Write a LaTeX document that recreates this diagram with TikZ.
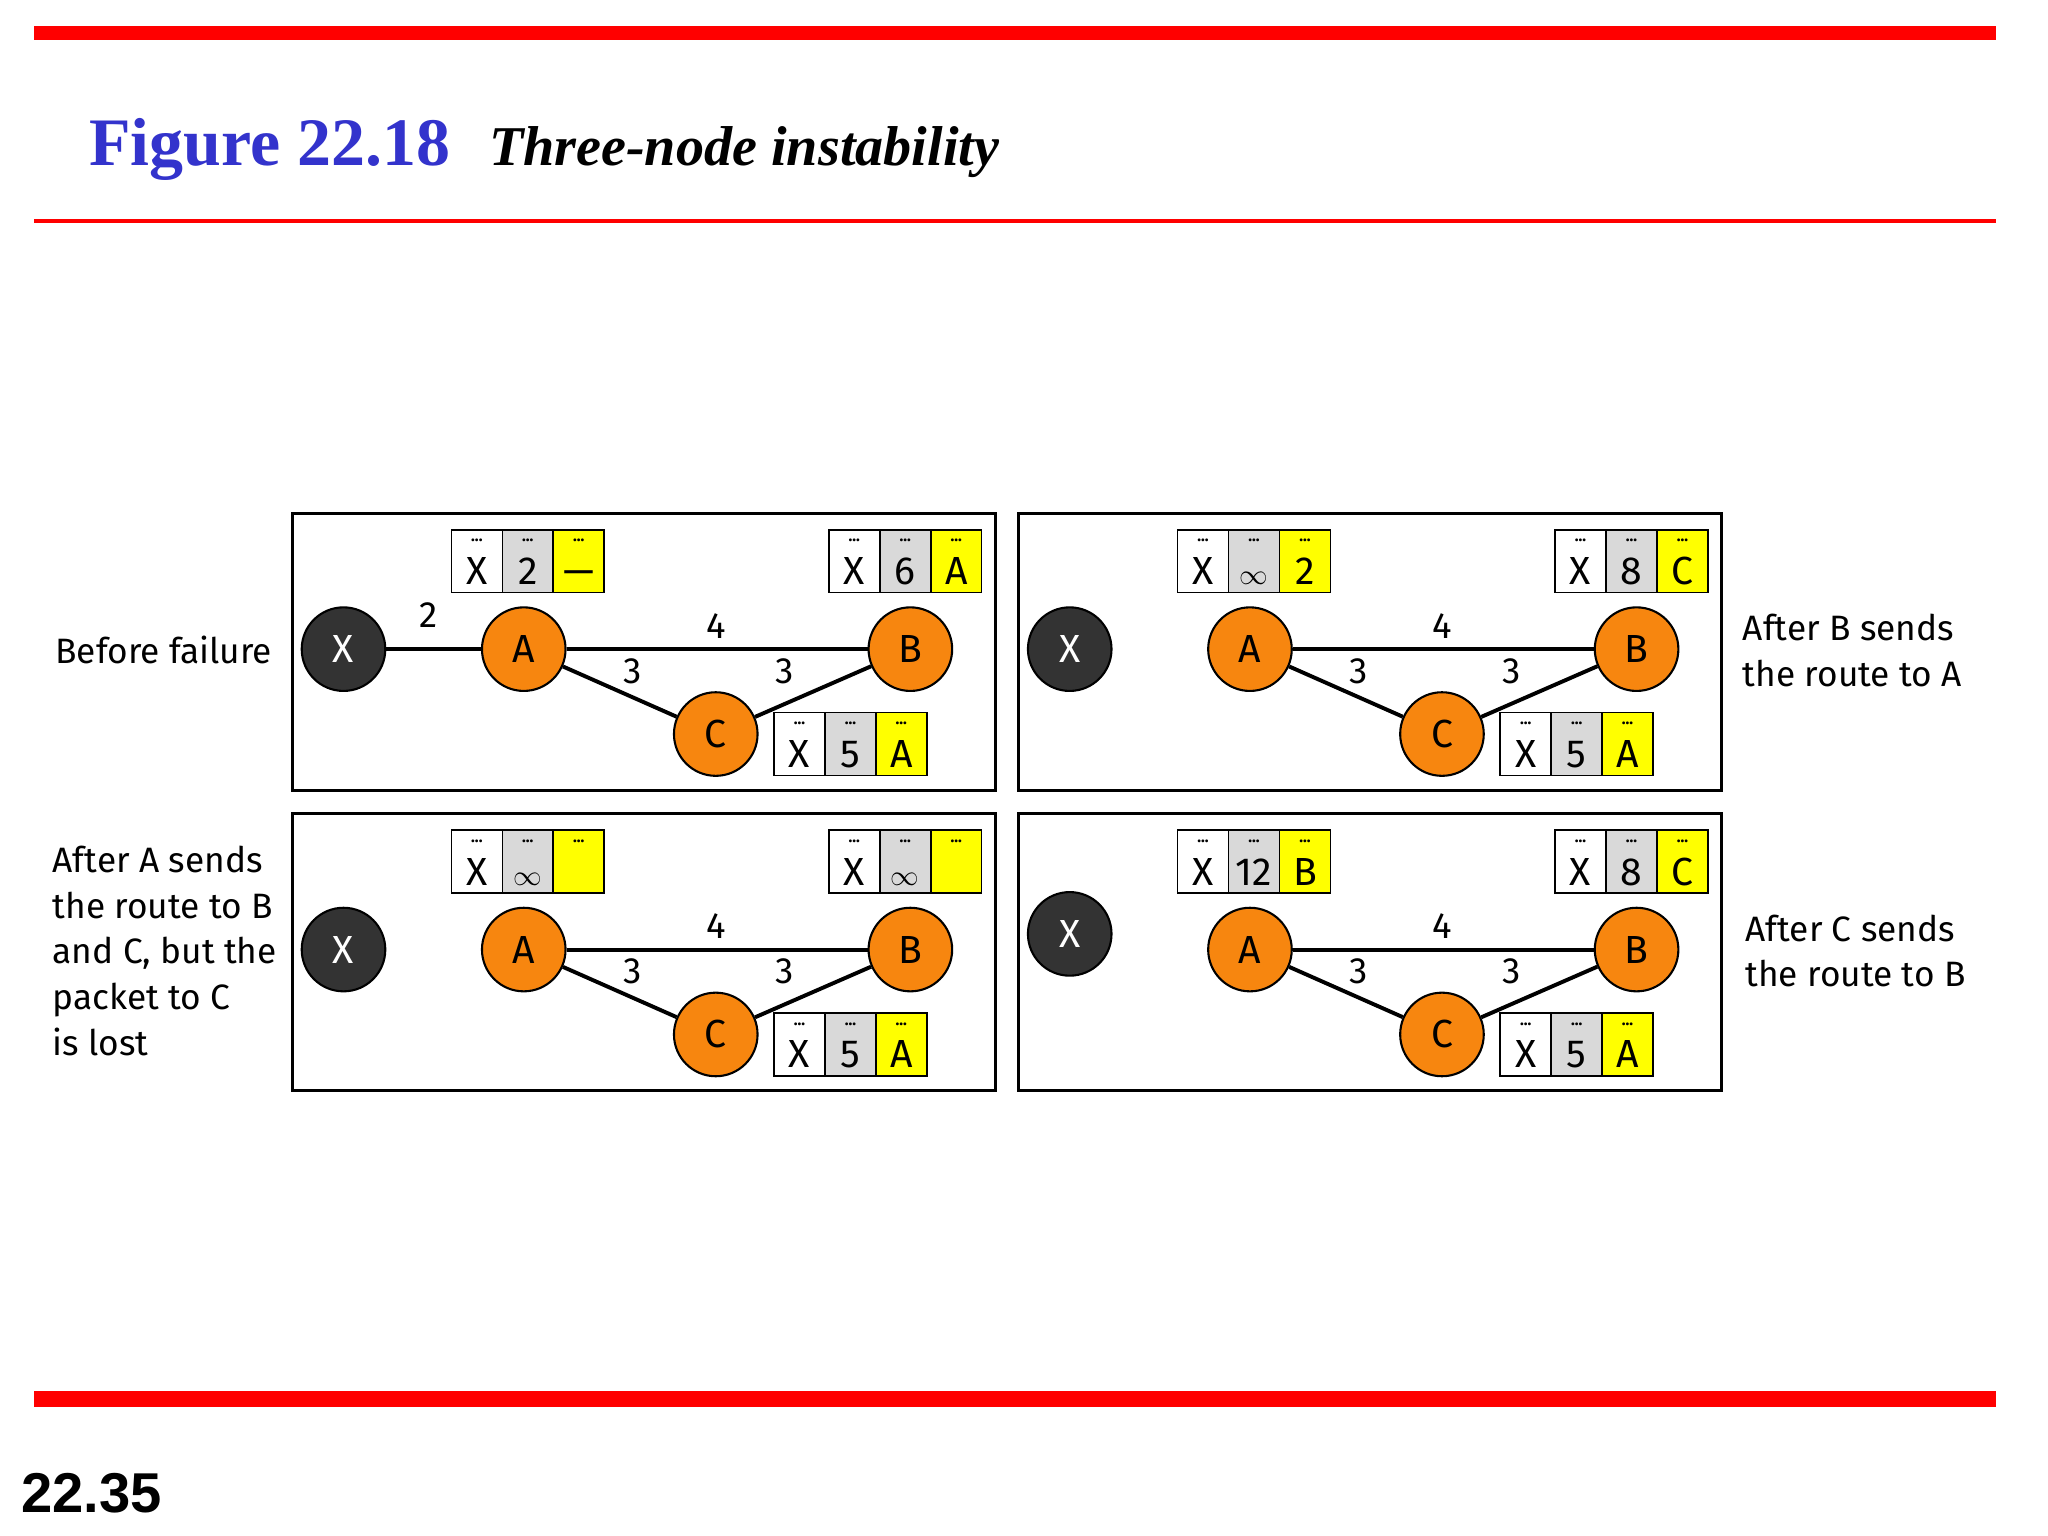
\documentclass[tikz,border=0pt]{standalone}
\usepackage{fontspec}
\setmainfont{Liberation Serif}
\newfontfamily\figsans{Fira Sans}
\newfontfamily\numsans{Liberation Sans}
\definecolor{rred}{HTML}{FF0000}
\definecolor{rblue}{HTML}{3333CC}
\definecolor{rorange}{HTML}{F7860F}
\definecolor{rdark}{HTML}{333333}
\definecolor{cgray}{HTML}{D9D9D9}
\definecolor{ryellow}{HTML}{FFFF00}
\tikzset{
  panel/.style={draw, line width=1pt},
  xnode/.style={circle, draw=black, line width=0.8pt, fill=rdark, minimum size=32pt, inner sep=0pt, text=white, font=\figsans\fontsize{15}{15}\selectfont},
  onode/.style={circle, draw=black, line width=0.8pt, fill=rorange, minimum size=32pt, inner sep=0pt, font=\figsans\fontsize{15}{15}\selectfont},
  edge/.style={line width=1.5pt},
  elab/.style={font=\figsans\fontsize{14}{14}\selectfont, inner sep=0pt},
  cell/.style={draw, line width=0.6pt, anchor=north west, minimum width=19.5pt, minimum height=24pt, inner sep=0pt},
  celltxt/.style={font=\figsans\fontsize{15}{15}\selectfont, inner sep=0pt},
  dots/.style={font=\figsans\fontsize{6}{6}\selectfont\bfseries, inner sep=0pt},
  side/.style={font=\figsans\fontsize{13.5}{17.5}\selectfont, align=left, anchor=west, inner sep=0pt},
}
\newcommand\rinf{{\fontsize{11}{11}\selectfont$\infty$}}
\newcommand\rcell[5]{%
  \node[cell,fill=#4] (#1) at (#2,#3) {};
  \node[dots] (#1d) at ([yshift=-4.5pt]#1.north) {...};
  \node[celltxt,anchor=base] (#1t) at ([yshift=-9pt]#1.center) {#5};}
\newcommand\rtable[5]{%
  \rcell{#1a}{#2}{#3}{white}{X}%
  \rcell{#1b}{#2+39}{#3}{cgray}{#4}%
  \rcell{#1c}{#2+78}{#3}{ryellow}{#5}}
% #1 ox #2 oy #3 prefix #4 X y #5 Adist #6 Ahop #7 Bdist #8 Bhop #9 link
\newcommand\rpanel[9]{%
\begin{scope}[shift={(#1,#2)}]
  \draw[panel] (0,0) rectangle (538,212);
  \node[xnode] (#3X) at (39,#4) {X};
  \node[onode] (#3A) at (177,104) {A};
  \node[onode] (#3B) at (473,104) {B};
  \node[onode] (#3C) at (324,169) {C};
  \ifnum#9=1
    \draw[edge] (#3X) -- (#3A);
    \node[elab] (#3l2) at (104,78) {2};
  \fi
  \draw[edge] (#3A) -- (#3B);
  \draw[edge] (#3A) -- (#3C);
  \draw[edge] (#3C) -- (#3B);
  \node[elab] (#3l4) at (324,86) {4};
  \node[elab] (#3lac) at (260,121) {3};
  \node[elab] (#3lcb) at (377,121) {3};
  \rtable{#3ta}{121}{12}{#5}{#6}
  \rtable{#3tb}{410}{12}{#7}{#8}
  \rtable{#3tc}{368}{152}{5}{A}
\end{scope}}
\begin{document}
\begin{tikzpicture}[x=0.5pt,y=-0.5pt]
\useasboundingbox[fill=white] (0,0) rectangle (1568,1176);
\fill[rred] (26,20) rectangle (1528,31);
\fill[rred] (26,168) rectangle (1528,171);
\fill[rred] (26,1065) rectangle (1528,1077);
\node[anchor=base west, inner sep=0pt, text=rblue, font=\fontsize{26}{26}\selectfont\bfseries] (title) at (68,127) {Figure 22.18};
\node[anchor=base west, inner sep=0pt, font=\fontsize{21.5}{22}\selectfont\bfseries\itshape] (subtitle) at (374,127) {Three-node instability};
\node[anchor=base west, inner sep=0pt, font=\numsans\fontsize{21.5}{21.5}\selectfont\bfseries] (pageno) at (16,1158) {22.35};

\rpanel{224}{393}{p}{104}{2}{—}{6}{A}{1}
\rpanel{780}{393}{q}{104}{\rinf}{2}{8}{C}{0}
\rpanel{224}{623}{r}{104}{\rinf}{}{\rinf}{}{0}
\rpanel{780}{623}{s}{92}{12}{B}{8}{C}{0}

\node[side] (t1) at (42,498) {Before failure};
\node[side] (t2) at (1334,498) {After B sends\\the route to A};
\node[side] (t3) at (40,728) {After A sends\\the route to B\\and C, but the\\packet to C\\is lost};
\node[side] (t4) at (1336,728) {After C sends\\the route to B};
\end{tikzpicture}
\end{document}
